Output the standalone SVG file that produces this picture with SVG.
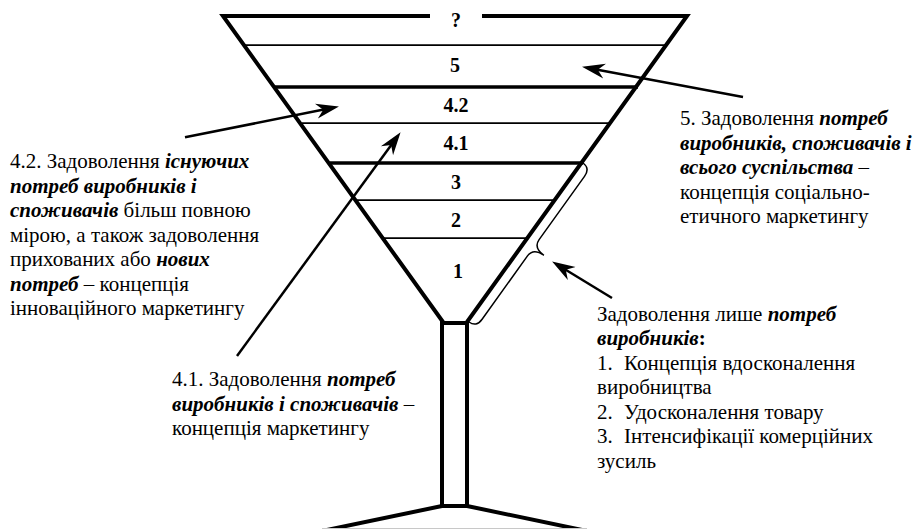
<svg xmlns="http://www.w3.org/2000/svg" width="920" height="529" viewBox="0 0 920 529">
<style>
  text{font-family:'Liberation Serif','DejaVu Serif',serif}
  .t{font-size:21px;fill:#000}
  .bi{font-weight:bold;font-style:italic}
  .b{font-weight:bold}
  .num{font-size:20px;font-weight:bold;fill:#000;text-anchor:middle}
  .outline{fill:none;stroke:#000;stroke-width:4;stroke-linejoin:miter}
  .thick{stroke:#000;stroke-width:3.5}
  .thin{stroke:#000;stroke-width:1.75}
  .conn{fill:none;stroke:#000;stroke-width:2.5}
  .brace{fill:none;stroke:#000;stroke-width:1.5}
</style>
<defs>
  <marker id="ah" viewBox="0 -9 26 18" markerWidth="26" markerHeight="18" refX="10" refY="0" orient="auto" markerUnits="userSpaceOnUse">
    <path d="M23,0 L0,-7.5 L7,0 L0,7.5 Z" fill="#000"/>
  </marker>
</defs>
<rect width="920" height="529" fill="#fff"/>

<g id="glass">
  <polyline class="outline" points="430,16 223,16 443,322"/>
  <polyline class="outline" points="482,16 687,16 467,322"/>
  <rect class="outline" x="442" y="323" width="25" height="183"/>
  <line x1="442" y1="506" x2="322" y2="531" stroke="#000" stroke-width="4"/>
  <line x1="467" y1="506" x2="587" y2="531" stroke="#000" stroke-width="4"/>
  <line x1="322" y1="528.5" x2="587" y2="528.5" stroke="#c8c8c8" stroke-width="1"/>
</g>

<g id="level-q"><text class="num" x="456" y="27">?</text></g>
<g id="level-5">
  <line class="thin" x1="245" y1="45" x2="665" y2="45"/>
  <text class="num" x="455" y="72">5</text>
</g>
<g id="level-4-2">
  <line class="thick" x1="275" y1="87" x2="638" y2="87"/>
  <text class="num" x="456" y="112">4.2</text>
</g>
<g id="level-4-1">
  <line class="thin" x1="302" y1="123" x2="610" y2="123"/>
  <text class="num" x="456" y="150">4.1</text>
</g>
<g id="level-3">
  <line class="thick" x1="330" y1="163" x2="583" y2="163"/>
  <text class="num" x="456" y="189">3</text>
</g>
<g id="level-2">
  <line class="thin" x1="356" y1="200" x2="556" y2="200"/>
  <text class="num" x="456" y="227">2</text>
</g>
<g id="level-1">
  <line class="thin" x1="384" y1="238" x2="528" y2="238"/>
  <text class="num" x="458" y="278">1</text>
</g>

<g id="note-4-2">
  <text class="t" x="10" y="168">4.2. Задоволення <tspan class="bi">існуючих</tspan></text>
  <text class="t" x="10" y="192.5"><tspan class="bi">потреб виробників і</tspan></text>
  <text class="t" x="10" y="217"><tspan class="bi">споживачів</tspan> більш повною</text>
  <text class="t" x="10" y="241.5">мірою, а також задоволення</text>
  <text class="t" x="10" y="266">прихованих або <tspan class="bi">нових</tspan></text>
  <text class="t" x="10" y="290.5"><tspan class="bi">потреб</tspan> – концепція</text>
  <text class="t" x="10" y="315">інноваційного маркетингу</text>
</g>

<g id="note-5">
  <text class="t" x="680" y="125">5. Задоволення <tspan class="bi">потреб</tspan></text>
  <text class="t" x="680" y="149.5"><tspan class="bi">виробників, споживачів і</tspan></text>
  <text class="t" x="680" y="174"><tspan class="bi">всього суспільства</tspan> –</text>
  <text class="t" x="680" y="198.5">концепція соціально-</text>
  <text class="t" x="680" y="223">етичного маркетингу</text>
</g>

<g id="note-4-1">
  <text class="t" x="172" y="386">4.1. Задоволення <tspan class="bi">потреб</tspan></text>
  <text class="t" x="172" y="410.5"><tspan class="bi">виробників і споживачів</tspan> –</text>
  <text class="t" x="172" y="435">концепція маркетингу</text>
</g>

<g id="note-1-3">
  <text class="t" x="597" y="320.5">Задоволення лише <tspan class="bi">потреб</tspan></text>
  <text class="t" x="597" y="345"><tspan class="bi">виробників</tspan><tspan class="b">:</tspan></text>
  <text class="t" x="597" y="369.5">1.<tspan x="624">Концепція вдосконалення</tspan></text>
  <text class="t" x="597" y="394">виробництва</text>
  <text class="t" x="597" y="418.5">2.<tspan x="624">Удосконалення товару</tspan></text>
  <text class="t" x="597" y="443">3.<tspan x="624">Інтенсифікації комерційних</tspan></text>
  <text class="t" x="597" y="467.5">зусиль</text>
</g>

<g id="connectors">
  <line class="conn" x1="743" y1="97" x2="594.8" y2="69.2" marker-end="url(#ah)"/>
  <line class="conn" x1="185" y1="137.3" x2="326.2" y2="109.1" marker-end="url(#ah)"/>
  <line class="conn" x1="237" y1="356" x2="392.9" y2="142.7" marker-end="url(#ah)"/>
  <line class="conn" x1="612" y1="298" x2="563.2" y2="268.3" marker-end="url(#ah)"/>
  <path class="brace" d="M583,163 Q590.3,168.2 584.5,176.4 L539.1,239.6 Q533.3,247.8 543.9,255.3 Q533.3,247.8 527.5,255.9 L482.1,319.2 Q476.3,327.3 469,322"/>
</g>
</svg>
